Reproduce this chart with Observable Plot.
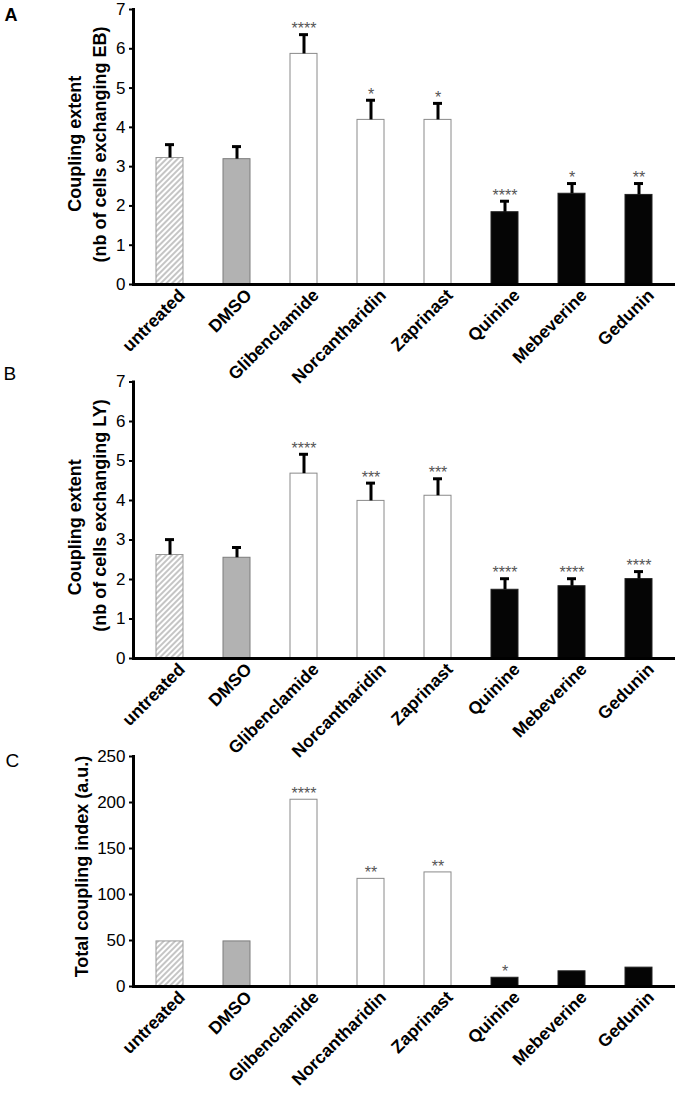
<!DOCTYPE html>
<html><head><meta charset="utf-8">
<script src="https://cdn.jsdelivr.net/npm/d3@7"></script>
<script src="https://cdn.jsdelivr.net/npm/@observablehq/plot@0.6"></script>
<style>
body{margin:0;background:#fff;font-family:"Liberation Sans",Arial,sans-serif}
#chart{width:680px;height:1096px;position:relative;overflow:hidden}
#chart svg{display:block;position:absolute;left:0}
</style>
</head><body><div id="chart"></div>
<script>
const categories = ["untreated","DMSO","Glibenclamide","Norcantharidin","Zaprinast","Quinine","Mebeverine","Gedunin"];
// Panel A: coupling extent (EB)
const meanA = [3.22,3.19,5.87,4.19,4.19,1.84,2.31,2.28];
const upperA = [3.56,3.51,6.36,4.69,4.61,2.12,2.57,2.57];
const sigA = ["","","****","*","*","****","*","**"];
// Panel B: coupling extent (LY)
const meanB = [2.62,2.55,4.68,3.99,4.12,1.74,1.83,2.01];
const upperB = [3.01,2.81,5.17,4.44,4.55,2.02,2.02,2.20];
const sigB = ["","","****","***","***","****","****","****"];
// Panel C: total coupling index
const valueC = [49,49,203,117,124,9.5,16.5,20.5];
const sigC = ["","","****","**","**","*","",""];
const ticksAB = [0,1,2,3,4,5,6,7];
const ticksC = [0,50,100,150,200,250];

const FONT = "Liberation Sans, Arial, sans-serif";

function styleFor(name, hatchId) {
  if (name === "untreated") return {fill: `url(#${hatchId})`, stroke: "#9a9a9a"};
  if (name === "DMSO") return {fill: "#b2b2b2", stroke: "#7c7c7c"};
  if (["Glibenclamide","Norcantharidin","Zaprinast"].includes(name)) return {fill: "#ffffff", stroke: "#8a8a8a"};
  return {fill: "#050505", stroke: "#222"};
}

function panel(o) {
  const rows = categories.map((name, i) => ({
    name, mean: o.mean[i], upper: o.upper ? o.upper[i] : null, sig: o.sig[i]
  }));
  const marks = [
    Plot.barY(rows, {x: "name", y: "mean", fill: d => styleFor(d.name, o.hatchId).fill,
      stroke: d => styleFor(d.name, o.hatchId).stroke, strokeWidth: 1})
  ];
  if (o.upper) {
    marks.push(Plot.ruleX(rows, {x: "name", y1: "mean", y2: "upper", stroke: "#000", strokeWidth: 3}));
    marks.push(Plot.tickY(rows, {x: "name", y: "upper", stroke: "#000", strokeWidth: 3, insetLeft: 9, insetRight: 9}));
  }
  marks.push(Plot.text(rows, {x: "name", y: d => (o.upper ? d.upper : d.mean), text: "sig",
    dy: -5.6, fontSize: 16, fill: "#555", ariaLabel: "stars"}));
  marks.push(Plot.axisY({ticks: o.ticks, tickFormat: d3.format("d"), tickSize: 4, tickPadding: 4, fontSize: 17, strokeWidth: 2, label: null, fill: "#000"}));
  marks.push(Plot.axisX({tickRotate: -45, fontSize: 17.5, fontWeight: "bold", tickSize: 0, tickPadding: 8, dx: 12, label: null, fill: "#000"}));
  marks.push(Plot.ruleY([o.domain[0]], {stroke: "#000", strokeWidth: 3}));
  marks.push(Plot.frame({anchor: "left", stroke: "#000", strokeWidth: 3}));
  marks.push(Plot.text([o.letter], {frameAnchor: "top-left", text: d => d, dx: o.letterDx, dy: o.letterDy,
    lineAnchor: "top", textAnchor: "start", fontSize: o.letterSize, fontWeight: o.letterWeight, fill: "#000"}));
  o.labels.forEach(l => {
    marks.push(Plot.text([l.text], {frameAnchor: "left", text: d => d, rotate: -90, dx: l.dx, dy: l.dy,
      textAnchor: "middle", fontSize: 18, fontWeight: "bold", fill: "#000"}));
  });
  const svg = Plot.plot({
    width: 680, height: o.height,
    marginLeft: 133, marginRight: 5, marginTop: o.marginTop, marginBottom: o.marginBottom,
    style: {fontFamily: FONT, background: "transparent", color: "#000"},
    x: {domain: categories, paddingInner: 0.59, paddingOuter: 0.295, label: null, axis: null},
    y: {domain: o.domain, label: null, axis: null},
    color: {type: "identity"},
    marks
  });
  const s = d3.select(svg);
  s.style("top", o.top + "px");
  s.insert("defs", ":first-child").html(
    `<pattern id="${o.hatchId}" patternUnits="userSpaceOnUse" width="4" height="4" patternTransform="rotate(45)">` +
    `<rect width="4" height="4" fill="#fff"/><line x1="2" y1="-1" x2="2" y2="5" stroke="#c2c2c2" stroke-width="1.9"/></pattern>`);
  s.selectAll('g[aria-label="stars"] text').attr("letter-spacing", "2.2");
  return svg;
}

const chart = document.getElementById("chart");
chart.appendChild(panel({
  top: 0,
  letter: "A", letterDx: -129, letterDy: -1, letterSize: 18, letterWeight: "bold",
  height: 400, marginTop: 9, marginBottom: 116, domain: [0, 7], ticks: ticksAB,
  mean: meanA, upper: upperA, sig: sigA, hatchId: "hatchA",
  labels: [
    {text: "Coupling extent", dx: -58.6, dy: -3.2},
    {text: "(nb of cells exchanging EB)", dx: -32.8, dy: -2.5}
  ]
}));
chart.appendChild(panel({
  top: 362,
  letter: "B", letterDx: -130, letterDy: -15.5, letterSize: 19, letterWeight: "normal",
  height: 420, marginTop: 19.5, marginBottom: 124, domain: [0, 7], ticks: ticksAB,
  mean: meanB, upper: upperB, sig: sigB, hatchId: "hatchB",
  labels: [
    {text: "Coupling extent", dx: -58.6, dy: 7},
    {text: "(nb of cells exchanging LY)", dx: -32.8, dy: -4.7}
  ]
}));
chart.appendChild(panel({
  top: 740,
  letter: "C", letterDx: -128, letterDy: -3, letterSize: 19, letterWeight: "normal",
  height: 356, marginTop: 16, marginBottom: 110, domain: [0, 250], ticks: ticksC,
  mean: valueC, upper: null, sig: sigC, hatchId: "hatchC",
  labels: [
    {text: "Total coupling index (a.u.)", dx: -51.6, dy: -5}
  ]
}));
</script>
</body></html>
